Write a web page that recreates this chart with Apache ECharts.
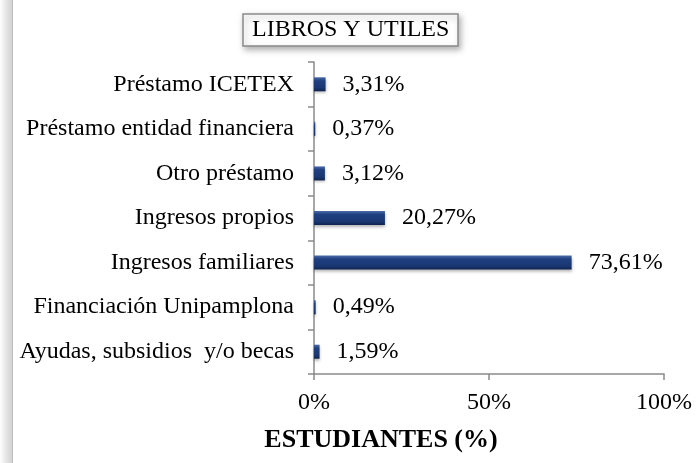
<!DOCTYPE html>
<html>
<head>
<meta charset="utf-8">
<script src="https://cdn.jsdelivr.net/npm/echarts@6/dist/echarts.min.js"></script>
<style>html,body{margin:0;padding:0;background:#fff}#c{width:698px;height:463px}</style>
</head>
<body>
<div id="c"></div>
<script>
const titleText = "LIBROS Y UTILES";
const categories = [
  "Ayudas, subsidios  y/o becas",
  "Financiación Unipamplona",
  "Ingresos familiares",
  "Ingresos propios",
  "Otro préstamo",
  "Préstamo entidad financiera",
  "Préstamo ICETEX"
];
const values = [1.59, 0.49, 73.61, 20.27, 3.12, 0.37, 3.31];
const xTicks = [0, 50, 100];
const axisName = "ESTUDIANTES (%)";

const font = "'Liberation Serif', 'Times New Roman', serif";
const chart = echarts.init(document.getElementById('c'), null, {renderer: 'canvas'});
chart.setOption({
  animation: false,
  backgroundColor: '#fff',
  title: {
    text: titleText,
    left: 243,
    top: 14,
    padding: [4, 9, 4, 9],
    borderColor: '#8a8a8a',
    borderWidth: 1.5,
    backgroundColor: '#fff',
    shadowBlur: 6,
    shadowOffsetX: 2,
    shadowOffsetY: 3,
    shadowColor: 'rgba(0,0,0,0.3)',
    textStyle: {fontFamily: font, fontSize: 24, fontWeight: 'normal', color: '#000', lineHeight: 24}
  },
  graphic: [
    {type: 'rect', shape: {x: 0, y: 0, width: 12, height: 463}, silent: true,
     style: {fill: new echarts.graphic.LinearGradient(0, 0, 1, 0, [
       {offset: 0, color: 'rgba(255,255,255,1)'}, {offset: 1, color: 'rgba(200,200,200,0.8)'}])}},
    {type: 'line', shape: {x1: 12.5, y1: 0, x2: 12.5, y2: 463}, silent: true,
     style: {stroke: '#bdbdbd', lineWidth: 1}},
    {type: 'text', x: 381, y: 440, silent: true,
     style: {text: axisName, fontFamily: font, fontSize: 26, fontWeight: 'bold', fill: '#000',
       align: 'center', verticalAlign: 'middle'}}
  ],
  grid: {left: 314, right: 34, top: 62, bottom: 89, containLabel: false},
  xAxis: {
    type: 'value', min: 0, max: 100, interval: 50,
    axisLine: {show: true, lineStyle: {color: '#8a8a8a', width: 1.5}},
    axisTick: {show: true, length: 6, inside: false, lineStyle: {color: '#8a8a8a', width: 1.5}},
    splitLine: {show: false},
    axisLabel: {fontFamily: font, fontSize: 24, color: '#000', margin: 17,
      formatter: v => xTicks.includes(v) ? v + '%' : ''}
  },
  yAxis: {
    type: 'category', data: categories,
    axisLine: {show: true, lineStyle: {color: '#8a8a8a', width: 1.5}},
    axisTick: {show: true, length: 6, lineStyle: {color: '#8a8a8a', width: 1.5}},
    axisLabel: {fontFamily: font, fontSize: 24, color: '#000', margin: 20}
  },
  series: [{
    type: 'bar', data: values, barWidth: 14,
    itemStyle: {
      color: new echarts.graphic.LinearGradient(0, 0, 0, 1, [
        {offset: 0, color: '#4a6aa8'},
        {offset: 0.25, color: '#1f3f80'},
        {offset: 0.75, color: '#1a3772'},
        {offset: 1, color: '#0f2350'}
      ]),
      shadowBlur: 3, shadowOffsetY: 2, shadowColor: 'rgba(0,0,0,0.3)'
    },
    label: {show: true, position: 'right', distance: 17, fontFamily: font, fontSize: 24, color: '#000',
      formatter: p => p.value.toFixed(2).replace('.', ',') + '%'}
  }]
});
</script>
</body>
</html>
